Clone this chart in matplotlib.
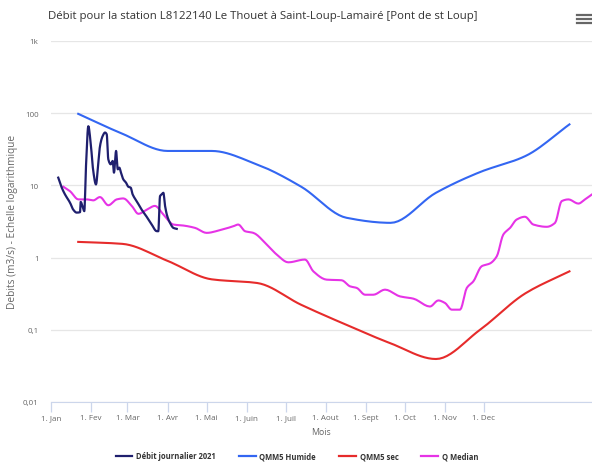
import numpy as np
import matplotlib
matplotlib.use("Agg")
import matplotlib.pyplot as plt
from matplotlib.lines import Line2D

plt.rcParams['font.family'] = ['Open Sans', 'DejaVu Sans']

# ---------------- data (x in days since 1 Jan) ----------------
month_ticks = [0, 31, 59, 90, 120, 151, 181, 212, 243, 273, 304, 334]
month_labels = ["1. Jan", "1. Fev", "1. Mar", "1. Avr", "1. Mai", "1. Juin",
                "1. Juil", "1. Aout", "1. Sept", "1. Oct", "1. Nov", "1. Dec"]

debit_days = [5.6, 8.3, 10.8, 14.7, 17.2, 19.8, 22.4, 22.9, 24.5, 25.7, 27.0,
              28.8, 30.6, 32.6, 34.7, 36.5, 37.8, 39.9, 41.7, 43.0, 44.2, 46.1,
              47.6, 48.6, 50.2, 51.5, 52.7, 54.0, 55.8, 57.9, 59.6, 61.5, 63.0,
              66.1, 70.0, 73.8, 77.7, 81.6, 82.8, 84.1, 85.4, 86.7, 88.0, 89.7,
              91.8, 94.4, 97.0]
debit_vals = [12.8, 9.3, 7.5, 5.75, 4.6, 4.2, 4.26, 5.9, 5.0, 4.4, 18.5,
              66, 39, 15.8, 10.3, 20.6, 35, 48.5, 54, 51, 23, 19.6,
              21.8, 15, 30, 16.7, 17.6, 15, 12.1, 10.9, 9.6, 9.3, 7.5,
              6.06, 4.6, 3.68, 2.87, 2.32, 2.32, 7.1, 7.5, 7.9, 5.2, 3.75,
              3.03, 2.58, 2.5]

qmm_days = [21, 55, 90, 124, 159, 193, 228, 262, 297, 331, 366, 400]
humide_vals = [98, 52, 30, 30, 19.5, 9.6, 3.56, 3.03, 7.9, 15.3, 25.5, 70]
sec_vals = [1.65, 1.55, 0.9, 0.5, 0.445, 0.222, 0.117, 0.065, 0.0394, 0.1, 0.32, 0.645]

median_days = [9.5, 14.7, 21.1, 27.5, 32.6, 37.8, 44.2, 50.7, 55.8, 62.3, 67.4,
               73.8, 80.2, 86.7, 94.4, 102.1, 111.1, 120.1, 130.4, 140.7, 144.5,
               149.7, 156.1, 166.4, 174.2, 183.1, 196.0, 202.4, 212.7, 224.3,
               230.7, 235.9, 242.3, 248.7, 257.7, 269.3, 279.6, 292.4, 298.8,
               304.0, 309.2, 315.6, 320.8, 325.9, 332.3, 338.7, 343.9, 349.0,
               354.2, 359.3, 365.7, 372.1, 382.5, 388.9, 394.0, 399.2, 406.9,
               412.0, 417.4]
median_vals = [9.6, 8.3, 6.4, 6.4, 6.2, 6.9, 5.3, 6.4, 6.6, 5.2, 4.04,
               4.6, 5.2, 3.96, 2.87, 2.78, 2.58, 2.2, 2.4, 2.72, 2.87,
               2.32, 2.2, 1.52, 1.1, 0.86, 0.94, 0.645, 0.495, 0.485,
               0.4, 0.38, 0.306, 0.306, 0.36, 0.29, 0.27, 0.21, 0.255,
               0.235, 0.19, 0.19, 0.38, 0.47, 0.76, 0.83, 1.04, 2.09,
               2.58, 3.37, 3.68, 2.87, 2.67, 3.03, 6.06, 6.4, 5.6,
               6.4, 7.5]

y_ticks = [0.01, 0.1, 1, 10, 100, 1000]
y_labels = ["0,01", "0,1", "1", "10", "100", "1k"]


def smooth(xs, ys, n=12):
    """Monotone cubic (spline-like) rendering of a line, in log space."""
    x = np.asarray(xs, float)
    y = np.log10(np.asarray(ys, float))
    h = np.diff(x)
    d = np.diff(y) / h
    m = np.zeros_like(y)
    m[0], m[-1] = d[0], d[-1]
    for k in range(1, len(x) - 1):
        if d[k - 1] * d[k] <= 0:
            m[k] = 0.0
        else:
            w1 = 2 * h[k] + h[k - 1]
            w2 = h[k] + 2 * h[k - 1]
            m[k] = (w1 + w2) / (w1 / d[k - 1] + w2 / d[k])
    xo, yo = [], []
    for k in range(len(x) - 1):
        t = np.linspace(0, 1, n, endpoint=False)
        h00 = 2 * t**3 - 3 * t**2 + 1
        h10 = t**3 - 2 * t**2 + t
        h01 = -2 * t**3 + 3 * t**2
        h11 = t**3 - t**2
        xo.append(x[k] + t * h[k])
        yo.append(h00 * y[k] + h10 * h[k] * m[k] + h01 * y[k + 1] + h11 * h[k] * m[k + 1])
    xo.append([x[-1]])
    yo.append([y[-1]])
    return np.concatenate(xo), 10 ** np.concatenate(yo)


fig = plt.figure(figsize=(5.92, 4.64), dpi=100)
ax = fig.add_axes([51 / 592, 61 / 464, 1 - 51 / 592, (403 - 42) / 464])

c_debit = "#1f1f6e"
c_hum = "#3366f2"
c_sec = "#e62b2b"
c_med = "#e633e6"

ax.plot(*smooth(qmm_days, humide_vals), color=c_hum, lw=1.5, zorder=3)
ax.plot(*smooth(qmm_days, sec_vals), color=c_sec, lw=1.5, zorder=3)
ax.plot(*smooth(median_days, median_vals, 6), color=c_med, lw=1.5, zorder=3)
ax.plot(*smooth(debit_days, debit_vals, 6), color=c_debit, lw=1.6, zorder=4)

ax.set_yscale("log")
ax.set_ylim(0.01, 1000)
ax.set_xlim(0, 417.4)
ax.set_yticks(y_ticks)
ax.set_yticklabels(y_labels)
ax.yaxis.set_minor_locator(matplotlib.ticker.NullLocator())
ax.set_xticks(month_ticks)
ax.set_xticklabels(month_labels)

ax.grid(axis="y", color="#e6e6e6", lw=0.9)
ax.set_axisbelow(True)
for s in ["top", "right", "left"]:
    ax.spines[s].set_visible(False)
ax.spines["bottom"].set_color("#ccd6eb")
ax.tick_params(axis="x", colors="#ccd6eb", length=7, width=0.9, labelcolor="#666666",
               labelsize=5.8, pad=2)
ax.tick_params(axis="y", length=0, labelcolor="#666666", labelsize=5.8, pad=9)

ax.set_xlabel("Mois", color="#666666", fontsize=6.3, labelpad=4)
fig.text(13 / 592, 1 - 222 / 464, "Debits (m3/s) - Echelle logarithmique",
         rotation=90, ha="center", va="center", color="#666666", fontsize=7.3)

fig.text(263 / 592, 1 - 17 / 464,
         "Débit pour la station L8122140 Le Thouet à Saint-Loup-Lamairé [Pont de st Loup]",
         ha="center", va="center", fontsize=8.2, color="#333333")

# hamburger menu icon
for yy in [15.7, 20, 24.3]:
    fig.add_artist(Line2D([577 / 592, 591 / 592], [1 - yy / 464, 1 - yy / 464],
                          color="#666666", lw=1.6, transform=fig.transFigure))

handles = [Line2D([], [], color=c, lw=1.6) for c in [c_debit, c_hum, c_sec, c_med]]
fig.legend(handles, ["Débit journalier 2021", "QMM5 Humide", "QMM5 sec", "Q Median"],
           loc="center", bbox_to_anchor=(297 / 592, 1 - 457 / 464), ncol=4, frameon=False,
           prop={"size": 5.5, "weight": "bold"}, labelcolor="#333333",
           handlelength=2.2, handletextpad=0.5, columnspacing=3.0)

fig.savefig("out.png", dpi=100)
